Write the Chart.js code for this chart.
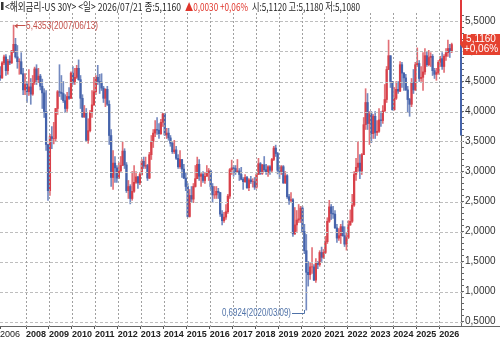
<!DOCTYPE html>
<html><head><meta charset="utf-8">
<script src="https://cdn.jsdelivr.net/npm/chart.js@4"></script>
<style>html,body{margin:0;padding:0;background:#fff;}#wrap{position:relative;width:500px;height:340px;}</style>
</head><body><div id="wrap"><canvas id="c" width="500" height="340"></canvas></div>
<script>
// ---- data (monthly, from 2006-11 to 2026-07) ----
const startYear = 2006, startMonth = 11;
const firstOpen = 4.60;
const highs = [
 4.75,4.83,
 4.94,4.95,4.87,4.93,5.02,5.44,5.22,5.10,4.88,4.98,4.72,4.63,
 4.50,4.70,4.55,4.60,4.74,4.78,4.72,4.62,4.54,4.38,4.35,3.45,
 3.62,3.75,3.82,4.05,4.35,4.78,4.60,4.50,4.28,4.32,4.40,4.66,
 4.75,4.72,4.77,4.86,4.60,4.28,4.10,4.05,3.88,4.02,4.35,4.57,
 4.60,4.77,4.62,4.63,4.42,4.38,4.42,4.18,3.70,3.35,3.25,3.10,
 3.15,3.25,3.49,3.38,3.15,2.85,2.78,3.00,3.10,3.00,2.92,2.98,
 3.20,3.24,3.24,3.12,3.32,3.60,3.70,3.85,3.90,3.80,3.87,3.97,
 3.97,3.72,3.72,3.60,3.50,3.52,3.42,3.28,3.35,3.20,3.12,2.98,
 2.80,2.70,2.75,2.80,3.10,3.24,3.20,2.98,3.00,2.98,3.10,3.05,
 3.02,2.80,2.75,2.75,2.72,2.65,2.35,2.32,2.45,2.62,3.05,3.19,
 3.10,3.10,3.20,3.05,3.07,2.90,2.95,2.92,2.88,2.92,2.88,2.90,
 2.97,3.22,3.15,3.12,3.25,3.12,3.10,3.10,3.22,3.42,3.44,3.32,
 3.10,3.10,3.10,3.00,2.95,2.62,2.65,2.55,2.40,2.35,2.45,2.42,
 2.42,2.12,1.95,1.50,1.48,1.73,1.45,1.55,1.50,1.68,1.74,1.70,
 1.92,2.23,2.52,2.45,2.42,2.35,2.12,2.05,2.12,2.18,2.08,1.98,
 2.18,2.36,2.62,3.00,3.22,3.50,3.28,3.30,3.90,4.38,4.30,4.00,
 4.00,3.95,4.00,3.85,4.05,4.00,4.10,4.45,4.75,5.19,4.93,4.50,
 4.40,4.50,4.50,4.83,4.82,4.65,4.62,4.42,4.22,4.55,4.70,4.82,
 5.06,4.85,4.75,4.98,5.05,5.00,5.02,4.98,4.95,4.72,4.72,4.85,
 4.92,4.98,4.95,5.05,5.19,5.12,5.14
];
const lows = [
 4.52,4.55,
 4.78,4.60,4.62,4.78,4.80,4.98,4.89,4.72,4.62,4.62,4.28,4.28,
 4.15,4.27,4.12,4.27,4.45,4.45,4.48,4.36,4.05,3.90,3.35,2.52,
 2.60,3.38,3.46,3.50,3.95,4.25,4.20,4.15,3.98,4.00,4.20,4.22,
 4.45,4.45,4.55,4.52,4.05,3.90,3.90,3.50,3.47,3.66,3.90,4.10,
 4.28,4.45,4.30,4.35,4.15,4.08,4.10,3.45,2.75,2.70,2.82,2.82,
 2.88,3.00,3.10,3.05,2.65,2.55,2.46,2.52,2.65,2.80,2.72,2.78,
 2.94,3.05,3.05,2.85,2.88,3.20,3.40,3.58,3.62,3.55,3.62,3.75,
 3.60,3.55,3.52,3.42,3.30,3.30,3.20,3.05,3.05,2.90,2.88,2.68,
 2.24,2.24,2.48,2.48,2.74,2.88,2.85,2.75,2.82,2.80,2.92,2.85,
 2.70,2.48,2.55,2.55,2.55,2.25,2.11,2.15,2.20,2.30,2.55,2.95,
 2.92,2.95,2.98,2.85,2.86,2.70,2.82,2.72,2.68,2.80,2.74,2.70,
 2.72,2.95,2.95,2.95,3.00,2.95,2.92,2.95,2.98,3.18,3.25,2.96,
 2.88,2.95,2.80,2.80,2.55,2.45,2.48,1.92,1.95,2.00,2.15,2.15,
 1.98,1.63,0.69,1.09,1.20,1.30,1.18,1.15,1.38,1.42,1.50,1.55,
 1.63,1.80,2.15,2.20,2.22,2.05,1.82,1.85,1.80,1.92,1.75,1.69,
 1.88,2.10,2.15,2.42,2.85,3.00,2.88,2.95,3.28,3.70,3.70,3.45,
 3.48,3.55,3.55,3.60,3.65,3.75,3.80,4.00,4.15,4.70,4.40,4.02,
 4.02,4.20,4.30,4.33,4.40,4.35,4.35,3.98,3.92,4.08,4.30,4.35,
 4.75,4.50,4.50,4.35,4.62,4.75,4.76,4.75,4.60,4.55,4.52,4.62,
 4.75,4.70,4.65,4.85,4.92,4.90,4.98
];
const closes = [
 4.56,4.81,
 4.91,4.68,4.84,4.81,5.01,5.12,4.91,4.83,4.83,4.63,4.36,4.45,
 4.33,4.41,4.29,4.48,4.71,4.53,4.59,4.42,4.31,4.00,3.45,2.68,
 3.58,3.55,3.55,4.05,4.33,4.32,4.30,4.18,4.05,4.25,4.22,4.64,
 4.49,4.57,4.72,4.53,4.22,3.91,3.98,3.52,3.68,3.98,4.11,4.33,
 4.57,4.50,4.49,4.39,4.22,4.37,4.12,3.60,2.90,3.14,3.06,2.89,
 3.01,3.10,3.34,3.11,2.68,2.75,2.55,2.67,2.82,2.91,2.81,2.95,
 3.17,3.09,3.10,2.89,3.28,3.50,3.64,3.70,3.69,3.63,3.82,3.96,
 3.61,3.64,3.56,3.47,3.33,3.36,3.22,3.08,3.20,3.04,2.89,2.75,
 2.25,2.60,2.54,2.75,2.88,3.12,2.92,2.95,2.85,2.92,2.98,3.01,
 2.75,2.61,2.61,2.67,2.65,2.29,2.18,2.24,2.33,2.59,3.03,3.06,
 3.05,2.98,3.01,2.95,2.87,2.83,2.90,2.73,2.86,2.83,2.83,2.74,
 2.95,3.13,2.97,3.11,3.03,2.98,3.08,3.02,3.20,3.39,3.30,3.02,
 3.00,3.08,2.81,2.93,2.58,2.52,2.53,1.96,2.11,2.19,2.21,2.39,
 2.00,1.68,1.32,1.28,1.41,1.41,1.19,1.48,1.45,1.65,1.57,1.65,
 1.83,2.17,2.41,2.30,2.29,2.06,1.89,1.93,2.08,1.93,1.79,1.90,
 2.11,2.17,2.44,2.95,3.07,3.14,3.01,3.28,3.78,4.15,3.80,3.96,
 3.63,3.92,3.65,3.67,3.86,3.85,4.01,4.20,4.70,4.93,4.50,4.03,
 4.22,4.37,4.34,4.78,4.64,4.56,4.36,4.20,4.12,4.48,4.36,4.78,
 4.80,4.55,4.57,4.66,4.93,4.78,4.90,4.92,4.68,4.62,4.65,4.82,
 4.88,4.75,4.92,4.98,5.05,5.00,5.116
];
const yearTicks = [2008,2009,2010,2011,2012,2013,2014,2015,2016,2017,2018,2019,2020,2021,2022,2023,2024,2025,2026];
const yMajorTicks = [0.5,1.0,1.5,2.0,2.5,3.0,3.5,4.0,4.5,5.0,5.5];
const headerMain = '<해외금리-US 30Y> <일> 2026/07/21 종:5,1160';
const headerChange = '▲0,0030 +0,06%';
const headerOHL = '시:5,1120 고:5,1180 저:5,1080';
const peakInfo = {value: 5.4353, label: '5,4353(2007/06/13)', t: 2007 + 5.5/12};
const troughInfo = {value: 0.6924, label: '0,6924(2020/03/09)', t: 2020 + 2.5/12};
const lastInfo = {value: 5.116, text: '5,1160', pct: '+0,06%', rangeLow: 3.6};

// ---- derived ----
const RED = '#d8404a', BLUE = '#4563ab';
const RED_W = 'rgba(216,64,74,0.75)', BLUE_W = 'rgba(69,99,171,0.75)';
const times = highs.map((_, i) => startYear + (startMonth - 1 + i + 0.5) / 12);
const opens = closes.map((c, i) => i === 0 ? firstOpen : closes[i - 1]);
const isUp = closes.map((c, i) => c >= opens[i]);
const xMin = 2008 - 26 / 22.96, xMax = xMin + 461 / 22.96;
const yMin = 0.5 - 4.5 / 60, yMax = 0.5 + 308.5 / 60;
const minorTicks = [];
for (let k = 5; k <= 56; k++) minorTicks.push(k / 10);
const isMajor = v => yMajorTicks.some(m => Math.abs(m - v) < 1e-6);
const fmt = v => v.toFixed(4).replace('.', ',');

const overlay = {
  id: 'overlay',
  afterDraw(chart) {
    const {ctx, chartArea: a, scales: {x, y}} = chart;
    ctx.save();
    // dotted grid (drawn first in this hook so labels stay on top)
    const top = Math.round(a.top), bottom = Math.round(a.bottom), left = Math.round(a.left), right = Math.round(a.right);
    ctx.fillStyle = 'rgb(190,190,190)';
    for (const v of yMajorTicks) {
      const py = Math.round(y.getPixelForValue(v));
      for (let xx = left; xx < right; xx += 5) ctx.fillRect(xx, py, 3, 1);
    }
    ctx.fillStyle = 'rgb(160,160,160)';
    for (const v of yearTicks) {
      const px = Math.round(x.getPixelForValue(v));
      for (let yy = top; yy < bottom; yy += 4) ctx.fillRect(px, yy, 1, 2);
    }
    ctx.strokeStyle = '#666'; ctx.lineWidth = 1;
    ctx.beginPath(); ctx.moveTo(a.right, Math.round(a.bottom) + 0.5); ctx.lineTo(500, Math.round(a.bottom) + 0.5); ctx.stroke();
    const yv = y.getPixelForValue(lastInfo.value), yl = y.getPixelForValue(lastInfo.rangeLow);
    ctx.fillStyle = '#e0393a'; ctx.fillRect(a.right - 1, 0, 2, yv);
    ctx.fillStyle = BLUE; ctx.fillRect(a.right - 1, yv, 2, yl - yv);
    ctx.fillStyle = '#e5412f';
    ctx.beginPath();
    ctx.moveTo(a.right - 1, yv); ctx.lineTo(a.right + 2, yv - 4); ctx.lineTo(a.right + 2, yv - 10.5);
    ctx.lineTo(500, yv - 10.5); ctx.lineTo(500, yv + 10.5); ctx.lineTo(a.right + 2, yv + 10.5); ctx.lineTo(a.right + 2, yv + 4);
    ctx.closePath(); ctx.fill();
    ctx.fillStyle = '#fff'; ctx.font = '10px "Liberation Sans"'; ctx.textAlign = 'center'; ctx.textBaseline = 'middle';
    ctx.fillText(lastInfo.text, 481, yv - 5);
    ctx.fillText(lastInfo.pct, 481, yv + 5);
    const px = x.getPixelForValue(peakInfo.t), py = y.getPixelForValue(peakInfo.value);
    ctx.strokeStyle = '#c4504a'; ctx.fillStyle = '#c4504a'; ctx.lineWidth = 1;
    ctx.beginPath(); ctx.moveTo(px + 1, Math.round(py) + 0.5); ctx.lineTo(px + 12, Math.round(py) + 0.5); ctx.stroke();
    ctx.beginPath(); ctx.moveTo(px + 1, py + 0.5); ctx.lineTo(px + 4, py - 2); ctx.lineTo(px + 4, py + 3); ctx.closePath(); ctx.fill();
    ctx.font = '10px "Liberation Sans"'; ctx.textAlign = 'left'; ctx.textBaseline = 'middle';
    ctx.fillText(peakInfo.label, px + 12.5, py + 1, 72);
    const tx = x.getPixelForValue(troughInfo.t), ty = y.getPixelForValue(troughInfo.value);
    const tyText = ty + 3;
    ctx.strokeStyle = '#4f72a8'; ctx.fillStyle = '#4f72a8';
    ctx.beginPath(); ctx.moveTo(292, Math.round(tyText) + 0.5); ctx.lineTo(Math.round(tx) - 1.5, Math.round(tyText) + 0.5);
    ctx.lineTo(Math.round(tx) - 1.5, ty); ctx.stroke();
    ctx.textAlign = 'right';
    ctx.fillText(troughInfo.label, 291, tyText, 69);
    ctx.fillStyle = '#333'; ctx.fillRect(1, 2, 2.5, 8);
    ctx.textAlign = 'left'; ctx.textBaseline = 'middle';
    ctx.font = '11px "Noto Sans CJK KR"';
    ctx.fillStyle = '#222';
    ctx.fillText(headerMain, 5, 6.5, 176);
    ctx.fillStyle = '#e0352b';
    ctx.fillText(headerChange, 185, 6.5, 63);
    ctx.fillStyle = '#222';
    ctx.fillText(headerOHL, 252, 6.5, 108);
    ctx.restore();
  }
};

new Chart(document.getElementById('c'), {
  type: 'bar',
  data: {
    datasets: [
      {data: times.map((t, i) => ({x: t, y: [lows[i], highs[i]]})), backgroundColor: isUp.map(u => u ? RED_W : BLUE_W), barThickness: 1, grouped: false, borderWidth: 0},
      {data: times.map((t, i) => ({x: t, y: [Math.min(opens[i], closes[i]), Math.max(opens[i], closes[i])]})), backgroundColor: isUp.map(u => u ? RED : BLUE), barThickness: 1.6, grouped: false, borderWidth: 0}
    ]
  },
  options: {
    responsive: false, animation: false, maintainAspectRatio: false,
    layout: {padding: {top: 13, left: 0, right: 0, bottom: 0}},
    plugins: {legend: {display: false}, tooltip: {enabled: false}},
    scales: {
      x: {
        type: 'linear', min: xMin, max: xMax, position: 'bottom', offset: false,
        afterBuildTicks: s => { s.ticks = [{value: xMin}].concat(yearTicks.map(v => ({value: v}))); },
        afterFit: s => { s.height = 14; },
        ticks: {
          autoSkip: false, maxRotation: 0, minRotation: 0, align: 'start', padding: 0, color: '#222',
          font: c => ({family: '"Liberation Sans"', size: 9, weight: (c.tick && c.tick.value === xMin) ? 'normal' : 'bold'}),
          callback: v => (Math.abs(v - xMin) < 1e-6 ? String(startYear) : String(v))
        },
        grid: {offset: false, drawOnChartArea: false, color: '#555', tickColor: '#555', tickLength: 3, lineWidth: 1},
        border: {display: true, color: '#666'}
      },
      y: {
        type: 'linear', position: 'right', min: yMin, max: yMax,
        afterBuildTicks: s => { s.ticks = minorTicks.map(v => ({value: v})); },
        afterFit: s => { s.width = 39; },
        ticks: {autoSkip: false, padding: 1, color: '#333', font: {family: '"Liberation Sans"', size: 10},
          callback: v => isMajor(v) ? fmt(v) : ''},
        grid: {drawOnChartArea: false, color: '#666', tickColor: '#666', tickLength: 3, lineWidth: 1},
        border: {display: true, color: '#666'}
      }
    }
  },
  plugins: [overlay]
});
</script>
</body></html>
